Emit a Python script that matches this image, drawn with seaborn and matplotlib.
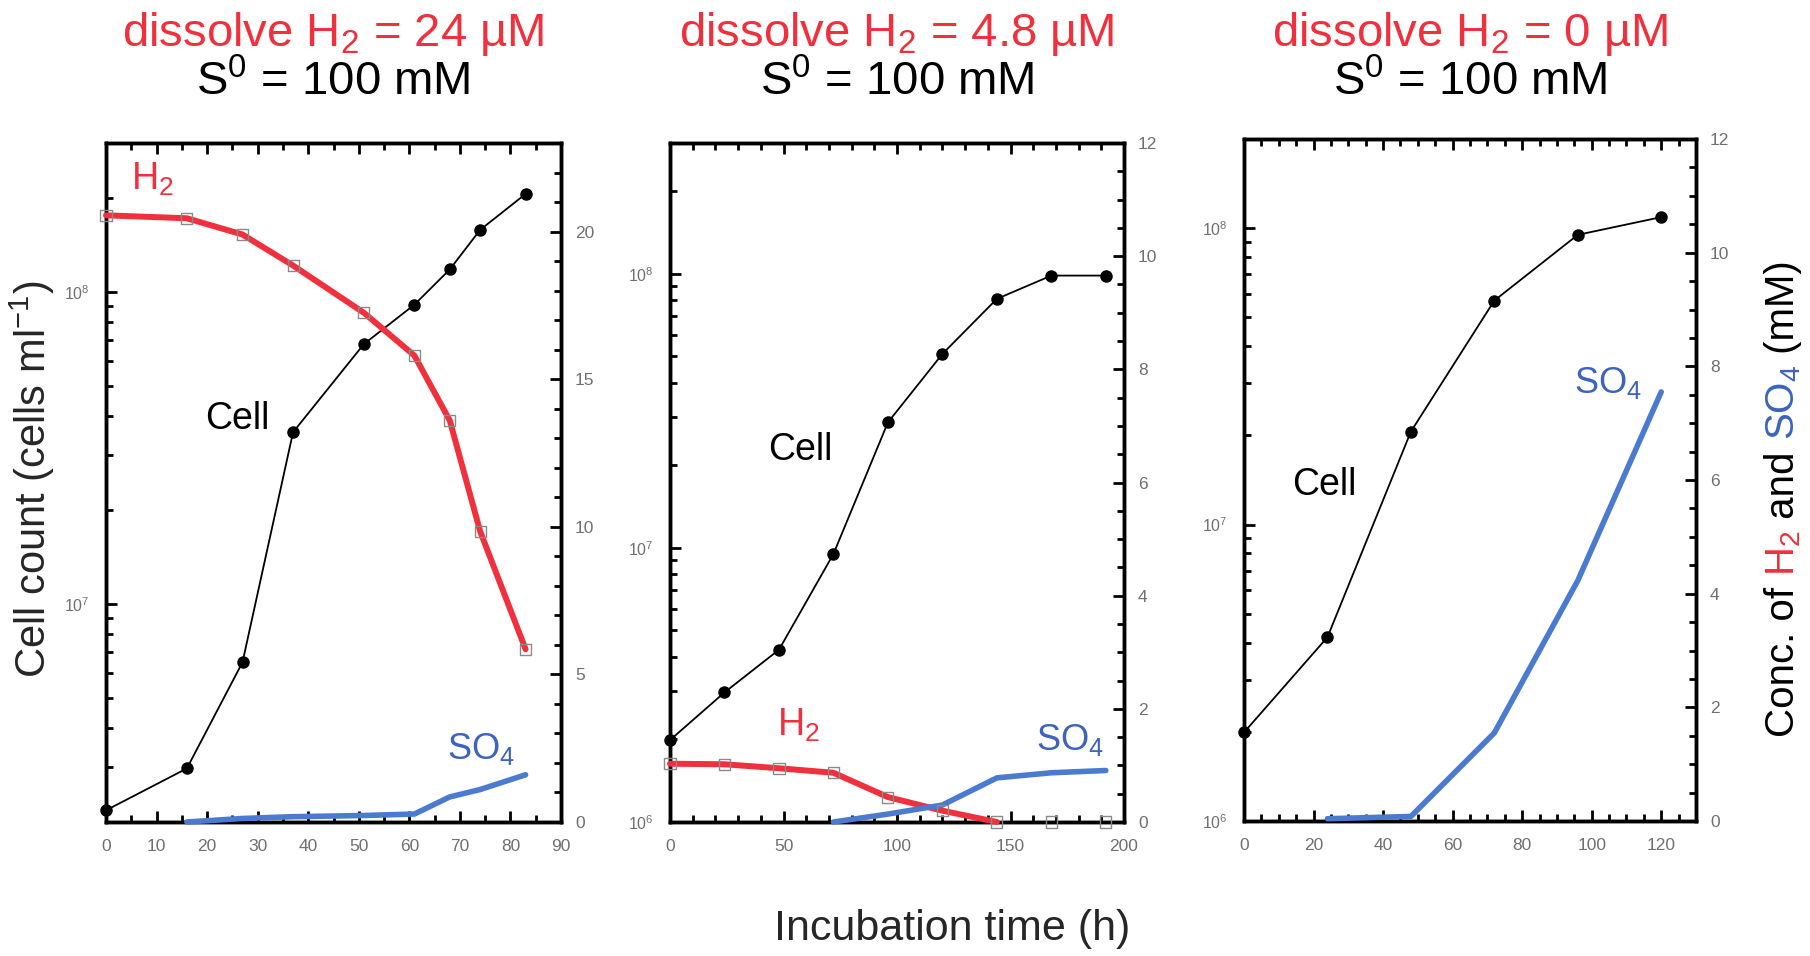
import numpy as np
import matplotlib
matplotlib.use("Agg")
import matplotlib.pyplot as plt
import seaborn as sns
from matplotlib.ticker import LogLocator, MultipleLocator, FuncFormatter, NullFormatter

nan = np.nan

# ---------------- data ----------------
titles_h2 = ["dissolve H$_2$ = 24 µM", "dissolve H$_2$ = 4.8 µM", "dissolve H$_2$ = 0 µM"]
title_s0 = "S$^0$ = 100 mM"

# Panel 1 (H2 = 24 µM)
time_1 = [0, 16, 27, 37, 51, 61, 68, 74, 83]
cell_1 = [2.18e6, 2.97e6, 6.5e6, 3.55e7, 6.8e7, 9.1e7, 1.18e8, 1.58e8, 2.06e8]
h2_1 = [20.55, 20.45, 19.9, 18.85, 17.25, 15.8, 13.6, 9.85, 5.85]
so4_1 = [nan, 0.0, 0.12, 0.18, 0.22, 0.27, 0.85, 1.1, 1.6]

# Panel 2 (H2 = 4.8 µM)
time_2 = [0, 24, 48, 72, 96, 120, 144, 168, 192]
cell_2 = [1.99e6, 2.97e6, 4.25e6, 9.5e6, 2.87e7, 5.1e7, 8.1e7, 9.85e7, 9.85e7]
h2_2 = [1.03, 1.02, 0.95, 0.87, 0.44, 0.2, 0.0, 0.0, 0.0]
so4_2 = [nan, nan, nan, 0.0, 0.14, 0.3, 0.78, 0.87, 0.91]

# Panel 3 (H2 = 0 µM)
time_3 = [0, 24, 48, 72, 96, 120]
cell_3 = [1.99e6, 4.17e6, 2.06e7, 5.7e7, 9.5e7, 1.09e8]
so4_3 = [nan, 0.04, 0.08, 1.55, 4.23, 7.55]

# ---------------- style ----------------
sns.set_style("ticks")
plt.rcParams["font.family"] = ["Liberation Sans", "DejaVu Sans"]
plt.rcParams["mathtext.default"] = "regular"

RED = "#F0303C"
BLUE = "#4A7BD0"
BLUE_TXT = "#3C64BE"
GRAY = "#707070"

W, H = 1810, 956
fig = plt.figure(figsize=(W / 100, H / 100), dpi=100)


def rect(x0, y0, x1, y1):
    return [x0 / W, 1 - y1 / H, (x1 - x0) / W, (y1 - y0) / H]


def fx(x):
    return x / W


def fy(y):
    return 1 - y / H


panels = [
    dict(r=(106, 143, 561, 822), t=time_1, cell=cell_1, h2=h2_1, so4=so4_1,
         xlim=(0, 90), ylim=(2.0e6, 3.0e8), rlim=(0, 23),
         xmaj=10, xmin=5, rmaj=5, rmin=1),
    dict(r=(670, 143, 1124, 822), t=time_2, cell=cell_2, h2=h2_2, so4=so4_2,
         xlim=(0, 200), ylim=(1.0e6, 3.0e8), rlim=(0, 12),
         xmaj=50, xmin=10, rmaj=2, rmin=0.5),
    dict(r=(1244, 139, 1696, 821), t=time_3, cell=cell_3, h2=None, so4=so4_3,
         xlim=(0, 130), ylim=(1.0e6, 2.0e8), rlim=(0, 12),
         xmaj=20, xmin=5, rmaj=2, rmin=0.5),
]

logfmt = FuncFormatter(lambda v, p: "$10^{%d}$" % int(round(np.log10(v))))

for i, p in enumerate(panels):
    ax = fig.add_axes(rect(*p["r"]))
    ax.set_yscale("log")
    ax2 = ax.twinx()

    # cell counts
    sns.lineplot(x=p["t"], y=p["cell"], ax=ax, color="black", linewidth=1.3,
                 marker="o", markersize=9, markeredgecolor="black",
                 markerfacecolor="black", markeredgewidth=0, clip_on=False,
                 zorder=5)

    # H2: line runs until the gas is used up, squares mark every sample
    if p["h2"] is not None:
        h2 = np.array(p["h2"], dtype=float)
        t = np.array(p["t"], dtype=float)
        zero = np.nonzero(h2 <= 0)[0]
        last = zero[0] if len(zero) else len(h2) - 1
        sns.lineplot(x=t[:last + 1], y=h2[:last + 1], ax=ax2, color=RED,
                     linewidth=4.3, clip_on=False, zorder=4)
        sns.scatterplot(x=t, y=h2, ax=ax2, marker="s", s=64,
                        facecolor="none", edgecolor="#8a8a8a",
                        linewidth=1.0, clip_on=False, zorder=6)

    # SO4
    sns.lineplot(x=p["t"], y=p["so4"], ax=ax2, color=BLUE, linewidth=4.0,
                 clip_on=False, zorder=4)

    ax.set_xlim(*p["xlim"])
    ax.set_ylim(*p["ylim"])
    ax2.set_ylim(*p["rlim"])

    ax.xaxis.set_major_locator(MultipleLocator(p["xmaj"]))
    ax.xaxis.set_minor_locator(MultipleLocator(p["xmin"]))
    ax.yaxis.set_major_locator(LogLocator(base=10, numticks=10))
    ax.yaxis.set_minor_locator(LogLocator(base=10, subs=np.arange(2, 10), numticks=20))
    ax.yaxis.set_major_formatter(logfmt)
    ax.yaxis.set_minor_formatter(NullFormatter())
    ax2.yaxis.set_major_locator(MultipleLocator(p["rmaj"]))
    ax2.yaxis.set_minor_locator(MultipleLocator(p["rmin"]))

    ax.tick_params(axis="x", which="both", direction="in", top=True, bottom=True,
                   colors="black", labelcolor=GRAY, labelsize=12.5, pad=12, width=2.0)
    ax.tick_params(axis="x", which="major", length=8)
    ax.tick_params(axis="x", which="minor", length=5)
    ax.tick_params(axis="y", which="both", direction="in", left=True, right=False,
                   colors="black", labelcolor=GRAY, labelsize=11.5, pad=12, width=2.0)
    ax.tick_params(axis="y", which="major", length=8)
    ax.tick_params(axis="y", which="minor", length=5)
    ax2.tick_params(axis="y", which="both", direction="in", right=True, left=False,
                    colors="black", labelcolor=GRAY, labelsize=12.5, pad=10, width=2.0)
    ax2.tick_params(axis="y", which="major", length=8)
    ax2.tick_params(axis="y", which="minor", length=5)

    for a in (ax, ax2):
        for s in a.spines.values():
            s.set_visible(True)
            s.set_linewidth(2.5)
            s.set_color("black")
        a.set_xlabel("")
        a.set_ylabel("")

    # titles
    cx = (p["r"][0] + p["r"][2]) / 2
    fig.text(fx(cx), fy(46), titles_h2[i], color=RED, fontsize=34,
             ha="center", va="baseline")
    fig.text(fx(cx), fy(95), title_s0, color="black", fontsize=34,
             ha="center", va="baseline")

# in-plot labels (left x, baseline y in pixels)
labels = [
    ("H$_2$", 131, 190, RED, 27),
    ("Cell", 205, 429, "black", 27),
    ("SO$_4$", 447, 759, BLUE_TXT, 26),
    ("Cell", 768, 460, "black", 27),
    ("H$_2$", 777, 736, RED, 27),
    ("SO$_4$", 1036, 750, BLUE_TXT, 26),
    ("Cell", 1292, 495, "black", 27),
    ("SO$_4$", 1574, 393, BLUE_TXT, 26),
]
for txt, x, y, c, fs in labels:
    fig.text(fx(x), fy(y), txt, color=c, fontsize=fs, ha="left", va="baseline")

# axis labels
fig.text(fx(32), fy(479), "Cell count (cells ml$^{-1}$)", rotation=90,
         fontsize=30, ha="center", va="center")
fig.text(fx(952), fy(929), "Incubation time (h)", fontsize=31,
         ha="center", va="center")

# multicolour right axis label, pieces chained bottom-to-top
pieces = [("Conc. of ", "black"), ("H$_2$", RED), (" and ", "black"),
          ("SO$_4$", BLUE_TXT), (" (mM)", "black")]
fig.canvas.draw()
renderer = fig.canvas.get_renderer()
first = fig.text(fx(1764), fy(737), pieces[0][0], color=pieces[0][1], fontsize=29,
                 rotation=90, ha="left", va="bottom")
bb = first.get_window_extent(renderer)
ytop = bb.y1
for txt, c in pieces[1:]:
    t = fig.text(bb.x0 / W, ytop / H, txt, color=c, fontsize=29, rotation=90,
                 ha="left", va="bottom")
    ytop = t.get_window_extent(renderer).y1

fig.savefig("out.png", dpi=100)
